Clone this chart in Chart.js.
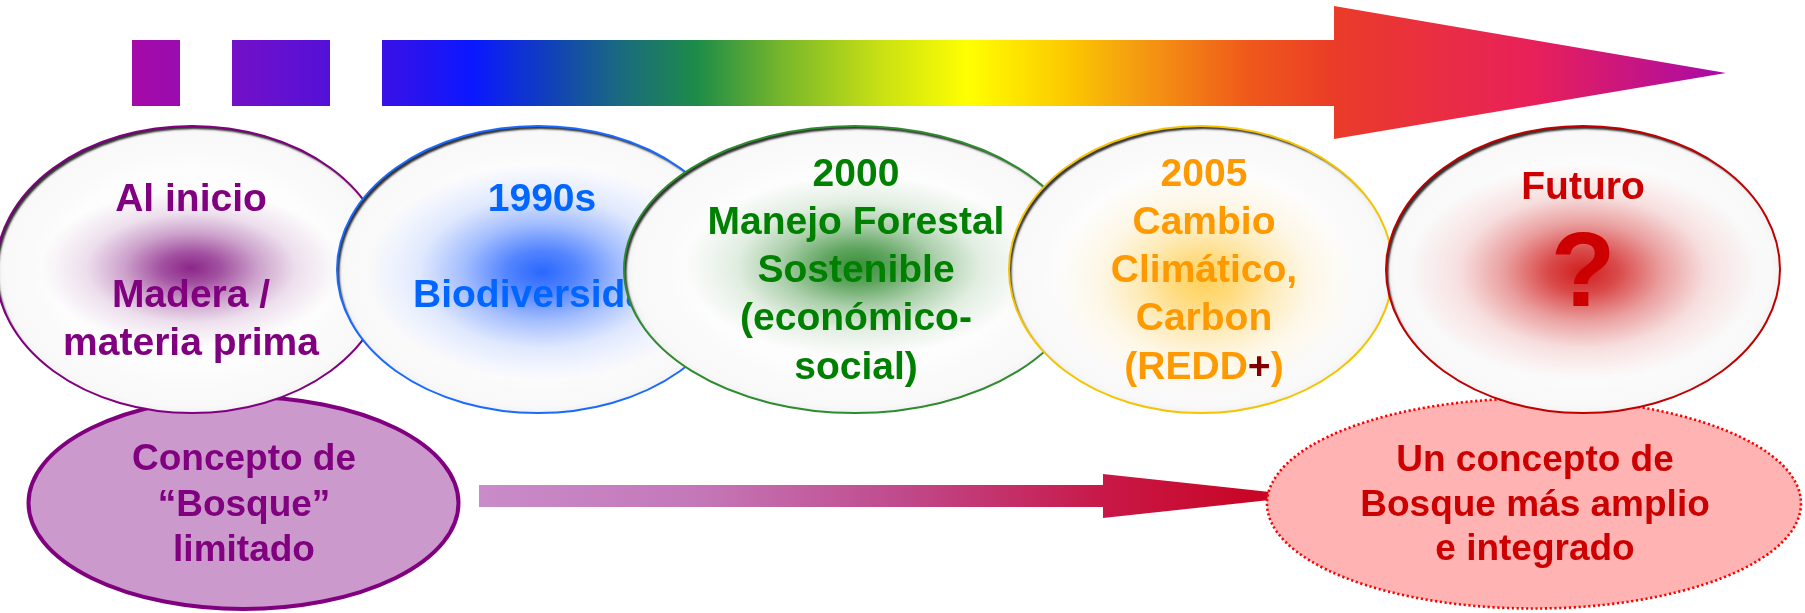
<!DOCTYPE html>
<html>
<head>
<meta charset="utf-8">
<script src="https://cdn.jsdelivr.net/npm/chart.js@4.4.0/dist/chart.umd.min.js"></script>
<style>
html,body{margin:0;padding:0;background:#ffffff;overflow:hidden;}
#wrap{width:1805px;height:613px;position:relative;}
</style>
</head>
<body>
<div id="wrap"><canvas id="c"></canvas></div>
<script>
// ---------- DATA ----------
const stageTitles = ['Al inicio', '1990s', '2000', '2005', 'Futuro'];
const stageTopics = [
  ['', 'Madera /', 'materia prima'],
  ['', 'Biodiversidad'],
  ['Manejo Forestal', 'Sostenible', '(económico-', 'social)'],
  ['Cambio', 'Climático,', 'Carbon', '(REDD+)'],
  ['?']
];
const conceptFrom = ['Concepto de', '“Bosque”', 'limitado'];
const conceptTo = ['Un concepto de', 'Bosque más amplio', 'e integrado'];

// ---------- LAYOUT (positions / sizes, in axis units) ----------
const LAYOUT = {
  width: 1805, height: 613,
  stageCx: [192, 538, 855, 1201, 1583],
  stageRx: [196, 201, 231, 192, 197],
  stageCy: 269.5, stageRy: 143.5,
  stageTextX: [191, 542, 856, 1204, 1583],
  stageTextTop: [200, 200, 175, 175, 188],
  lineH: 48.2,
  glow: [
    {x:191, y:268, r:150, sy:0.52},
    {x:542, y:272, r:175, sy:0.62},
    {x:858, y:266, r:175, sy:0.52},
    {x:1204, y:282, r:150, sy:0.75},
    {x:1583, y:272, r:175, sy:0.62}
  ],
  topBlocks: [[132,180],[232,330]],
  topShaft: [382, 1334], topY: [40, 106], topHead: {x0:1334, y0:6, y1:139, tip:1726, ty:73},
  concept: [
    {cx:243.5, cy:503, rx:215, ry:106, tx:244, ty:[460, 506, 551]},
    {cx:1534, cy:503.5, rx:267, ry:105, tx:1535, ty:[461, 505.5, 550]}
  ],
  lowShaft: [479, 1103], lowY: [485, 507], lowHead: {x0:1103, y0:474, y1:518, tip:1307, ty:496}
};

// ---------- STYLE ----------
const STYLE = {
  font: '"Liberation Sans", Arial, Helvetica, sans-serif',
  stageFont: 39, conceptFont: 37, qFont: 106,
  stageText: ['#800080', '#0066ff', '#008000', '#ff9900', '#cc0000'],
  stageBorder: ['#800080', '#1a6aff', '#2e8b2e', '#f5c400', '#c00000'],
  glowRGB: ['130,20,128', '30,95,255', '30,128,30', '255,196,40', '205,10,10'],
  glowAlpha: [0.92, 0.95, 0.88, 0.75, 0.92],
  plusColor: '#800000',
  topStops: [
    [132,'#a60aa8'],[180,'#9a0cb0'],[232,'#7410c8'],[330,'#5410d8'],[382,'#3a10e6'],
    [473,'#0a18ff'],[560,'#1246b0'],[620,'#1a6a80'],[698,'#1e8c48'],[785,'#7ab82a'],
    [880,'#c8e014'],[968,'#ffff00'],[1068,'#fcc800'],[1131,'#f5a010'],[1246,'#ef5a1a'],
    [1334,'#ea3c28'],[1535,'#e8205a'],[1726,'#a80aa8']
  ],
  lowStops: [[479,'#c98cc8'],[700,'#c477b8'],[900,'#c04a8c'],[1103,'#c81848'],[1307,'#c8001a']],
  conceptFill: ['#cc99cc', '#ffb3b3'],
  conceptBorder: ['#800080', '#ff0000'],
  conceptText: ['#800080', '#cc0000']
};

// ---------- DRAWING PLUGIN ----------
const diagram = {
  id: 'diagram',
  afterDatasetsDraw(chart) {
    const ctx = chart.ctx;
    const X = v => chart.scales.x.getPixelForValue(v);
    const Y = v => chart.scales.y.getPixelForValue(v);
    const W = v => X(v) - X(0);
    const H = v => Y(v) - Y(0);
    const meta = chart.getDatasetMeta(0);

    function hGrad(stops, a, b) {
      const g = ctx.createLinearGradient(X(a), 0, X(b), 0);
      stops.forEach(s => g.addColorStop((s[0] - a) / (b - a), s[1]));
      return g;
    }
    function ellipsePath(cx, cy, rx, ry) {
      ctx.beginPath();
      ctx.ellipse(cx, cy, rx, ry, 0, 0, Math.PI * 2);
    }
    function font(sz) { return 'bold ' + sz + 'px ' + STYLE.font; }

    // ---- top gradient arrow ----
    const ts = STYLE.topStops;
    const g1 = hGrad(ts, ts[0][0], ts[ts.length - 1][0]);
    ctx.save();
    ctx.fillStyle = g1;
    LAYOUT.topBlocks.forEach(b => {
      ctx.fillRect(X(b[0]), Y(LAYOUT.topY[0]), W(b[1] - b[0]), H(LAYOUT.topY[1] - LAYOUT.topY[0]));
    });
    const th = LAYOUT.topHead;
    ctx.beginPath();
    ctx.moveTo(X(LAYOUT.topShaft[0]), Y(LAYOUT.topY[0]));
    ctx.lineTo(X(th.x0), Y(LAYOUT.topY[0]));
    ctx.lineTo(X(th.x0), Y(th.y0));
    ctx.lineTo(X(th.tip), Y(th.ty));
    ctx.lineTo(X(th.x0), Y(th.y1));
    ctx.lineTo(X(th.x0), Y(LAYOUT.topY[1]));
    ctx.lineTo(X(LAYOUT.topShaft[0]), Y(LAYOUT.topY[1]));
    ctx.closePath();
    ctx.fill();
    ctx.restore();

    // ---- lower arrow ----
    const ls = STYLE.lowStops;
    const g2 = hGrad(ls, ls[0][0], ls[ls.length - 1][0]);
    const lh = LAYOUT.lowHead;
    ctx.save();
    ctx.fillStyle = g2;
    ctx.beginPath();
    ctx.moveTo(X(LAYOUT.lowShaft[0]), Y(LAYOUT.lowY[0]));
    ctx.lineTo(X(lh.x0), Y(LAYOUT.lowY[0]));
    ctx.lineTo(X(lh.x0), Y(lh.y0));
    ctx.lineTo(X(lh.tip), Y(lh.ty));
    ctx.lineTo(X(lh.x0), Y(lh.y1));
    ctx.lineTo(X(lh.x0), Y(LAYOUT.lowY[1]));
    ctx.lineTo(X(LAYOUT.lowShaft[0]), Y(LAYOUT.lowY[1]));
    ctx.closePath();
    ctx.fill();
    ctx.restore();

    // ---- concept ellipses (below stage ellipses) ----
    const concepts = [conceptFrom, conceptTo];
    LAYOUT.concept.forEach((c, i) => {
      ctx.save();
      ellipsePath(X(c.cx), Y(c.cy), W(c.rx), H(c.ry));
      ctx.fillStyle = STYLE.conceptFill[i];
      ctx.fill();
      ctx.strokeStyle = STYLE.conceptBorder[i];
      if (i === 0) {
        ctx.lineWidth = 4;
      } else {
        ctx.lineWidth = 2.6;
        ctx.setLineDash([2.2, 2.6]);
      }
      ctx.stroke();
      ctx.setLineDash([]);
      ctx.fillStyle = STYLE.conceptText[i];
      ctx.font = font(STYLE.conceptFont);
      ctx.textAlign = 'center';
      ctx.textBaseline = 'middle';
      concepts[i].forEach((line, k) => ctx.fillText(line, X(c.tx), Y(c.ty[k])));
      ctx.restore();
    });

    // ---- stage ellipses ----
    stageTitles.forEach((title, i) => {
      const pt = meta.data[i];
      const cx = pt.x, cy = pt.y;
      const rx = W(LAYOUT.stageRx[i]), ry = H(LAYOUT.stageRy);
      ctx.save();
      ellipsePath(cx, cy, rx, ry);
      ctx.fillStyle = '#fdfdfd';
      ctx.fill();
      ctx.save();
      ellipsePath(cx, cy, rx, ry);
      ctx.clip();
      // faint rim tint
      ctx.save();
      ctx.translate(cx, cy);
      ctx.scale(1, ry / rx);
      const rg = ctx.createRadialGradient(0, 0, rx * 0.7, 0, 0, rx);
      rg.addColorStop(0, 'rgba(0,0,0,0)');
      rg.addColorStop(0.85, 'rgba(120,120,120,0.03)');
      rg.addColorStop(1, 'rgba(90,90,90,0.07)');
      ctx.fillStyle = rg;
      ctx.fillRect(-rx, -rx, rx * 2, rx * 2);
      ctx.restore();
      // glow
      const gl = LAYOUT.glow[i];
      ctx.save();
      ctx.translate(X(gl.x), Y(gl.y));
      ctx.scale(1, gl.sy);
      const R = W(gl.r);
      const gg = ctx.createRadialGradient(0, 0, 0, 0, 0, R);
      const rgb = STYLE.glowRGB[i], a = STYLE.glowAlpha[i];
      gg.addColorStop(0, 'rgba(' + rgb + ',' + a + ')');
      gg.addColorStop(0.2, 'rgba(' + rgb + ',' + (a * 0.8) + ')');
      gg.addColorStop(0.45, 'rgba(' + rgb + ',' + (a * 0.42) + ')');
      gg.addColorStop(0.7, 'rgba(' + rgb + ',' + (a * 0.14) + ')');
      gg.addColorStop(1, 'rgba(' + rgb + ',0)');
      ctx.fillStyle = gg;
      ctx.fillRect(-R, -R, R * 2, R * 2);
      ctx.restore();
      // inner shadow (upper-left dark rim)
      ctx.save();
      ctx.beginPath();
      ctx.rect(cx - rx - 60, cy - ry - 60, rx * 2 + 120, ry * 2 + 120);
      ctx.ellipse(cx, cy, rx, ry, 0, 0, Math.PI * 2);
      ctx.shadowColor = 'rgba(0,0,0,0.8)';
      ctx.shadowBlur = 2;
      ctx.shadowOffsetX = 2.5;
      ctx.shadowOffsetY = 3;
      ctx.fillStyle = '#ffffff';
      ctx.fill('evenodd');
      ctx.restore();
      ctx.restore();
      // border
      ellipsePath(cx, cy, rx, ry);
      ctx.strokeStyle = STYLE.stageBorder[i];
      ctx.lineWidth = 2;
      ctx.stroke();

      // text
      ctx.textAlign = 'center';
      ctx.textBaseline = 'middle';
      const tx = X(LAYOUT.stageTextX[i]);
      let y0 = LAYOUT.stageTextTop[i];
      ctx.font = font(STYLE.stageFont);
      ctx.fillStyle = STYLE.stageText[i];
      ctx.fillText(title, tx, Y(y0));
      const topics = stageTopics[i];
      if (topics.length === 1 && topics[0] === '?') {
        ctx.font = font(STYLE.qFont);
        ctx.fillText('?', tx, Y(y0 + 89));
      } else {
        topics.forEach((line, k) => {
          const yy = Y(y0 + (k + 1) * LAYOUT.lineH);
          if (line.indexOf('+') >= 0) {
            const parts = line.split('+');
            const wA = ctx.measureText(parts[0]).width;
            const wP = ctx.measureText('+').width;
            const wB = ctx.measureText(parts[1]).width;
            let x = tx - (wA + wP + wB) / 2;
            ctx.textAlign = 'left';
            ctx.fillStyle = STYLE.stageText[i];
            ctx.fillText(parts[0], x, yy);
            ctx.fillStyle = STYLE.plusColor;
            ctx.fillText('+', x + wA, yy);
            ctx.fillStyle = STYLE.stageText[i];
            ctx.fillText(parts[1], x + wA + wP, yy);
            ctx.textAlign = 'center';
          } else if (line) {
            ctx.fillText(line, tx, yy);
          }
        });
      }
      ctx.restore();
    });
  }
};

const chart = new Chart(document.getElementById('c'), {
  type: 'scatter',
  data: {
    datasets: [{
      label: 'Etapas',
      data: stageTitles.map((t, i) => ({ x: LAYOUT.stageCx[i], y: LAYOUT.stageCy })),
      pointRadius: 0,
      pointHoverRadius: 0
    }]
  },
  options: {
    responsive: true,
    maintainAspectRatio: false,
    animation: false,
    events: [],
    layout: { padding: 0 },
    scales: {
      x: { type: 'linear', min: 0, max: LAYOUT.width, display: false },
      y: { type: 'linear', min: 0, max: LAYOUT.height, reverse: true, display: false }
    },
    plugins: { legend: { display: false }, tooltip: { enabled: false } }
  },
  plugins: [diagram]
});
</script>
</body>
</html>
